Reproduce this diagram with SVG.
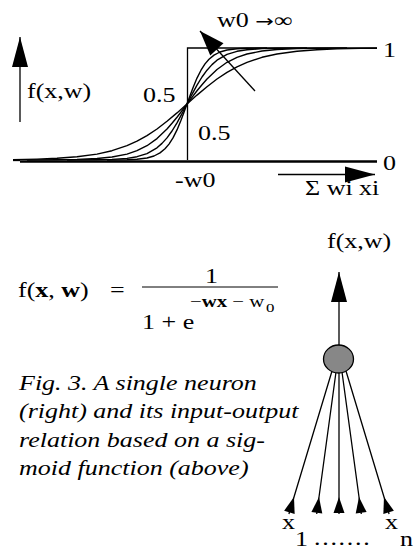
<svg xmlns="http://www.w3.org/2000/svg" width="417" height="551" viewBox="0 0 417 551">
<style>
.t{font-family:"Liberation Serif","Times New Roman",serif;font-size:20px;fill:#000}
.i{font-style:italic}
.b{font-weight:bold}
.ln{stroke:#000;stroke-width:1.3;fill:none}
.cv{stroke:#000;stroke-width:1.4;fill:none;stroke-linejoin:round}
</style>
<defs>
<marker id="big" markerUnits="userSpaceOnUse" viewBox="-31 -9 32 18" markerWidth="32" markerHeight="18" refX="0" refY="0" orient="auto" overflow="visible"><path d="M0,0 L-30,-8 L-30,8 Z" fill="#000"/></marker>
<marker id="mw" markerUnits="userSpaceOnUse" viewBox="-26 -10 27 20" markerWidth="27" markerHeight="20" refX="0" refY="0" orient="auto" overflow="visible"><path d="M0,0 L-25,-9 L-25,9 Z" fill="#000"/></marker>
<marker id="sm" markerUnits="userSpaceOnUse" viewBox="-17 -7 18 14" markerWidth="18" markerHeight="14" refX="0" refY="0" orient="auto" overflow="visible"><path d="M0,0 L-16,-5.5 L-16,5.5 Z" fill="#000"/></marker>
</defs>

<g id="plot">
<line class="ln" x1="13" y1="160.5" x2="20" y2="160.5"/>
<line x1="20" y1="161.5" x2="377" y2="161.5" stroke="#000" stroke-width="2.6"/>
<path class="ln" d="M187.5,160 V48 H377"/>
<path class="cv" d="M13,159.6 L37,159.1 L57,158.3 L77,156.8 L97,154.1 L112,150.7 L127,145.7 L137,141.2 L147,135.6 L157,129 L167,121.3 L177,112.9 L187,104 L197,95.1 L207,86.7 L217,79 L227,72.4 L237,66.8 L247,62.3 L262,57.3 L277,54 L297,51.2 L317,49.7 L337,48.9 L361,48.4 L377,48.3"/>
<path class="cv" d="M27,160 L57,159.8 L77,159.4 L97,158.5 L112,157 L127,154.1 L137,150.7 L147,145.7 L157,138.6 L167,129 L172,123.3 L177,117.2 L182,110.7 L187,104 L192,97.3 L197,90.8 L202,84.7 L207,79 L217,69.5 L227,62.3 L237,57.3 L247,54 L262,51 L277,49.5 L297,48.6 L317,48.2 L347,48"/>
<path class="cv" d="M67,160 L97,159.8 L112,159.4 L127,158.4 L137,156.7 L147,153.6 L157,147.8 L162,143.4 L167,137.9 L172,131 L177,122.8 L182,113.7 L187,104 L192,94.3 L197,85.2 L202,77 L207,70.2 L212,64.6 L217,60.2 L227,54.4 L237,51.3 L247,49.7 L262,48.6 L277,48.2 L307,48"/>
<path class="cv" d="M107,160 L127,159.7 L137,159.2 L147,158 L154,156 L160,152.9 L165,148.8 L169,144.1 L173,137.9 L177,129.9 L181,120.3 L184,112.3 L187,104 L190,95.7 L193,87.7 L197,78.1 L201,70.2 L205,63.9 L209,59.2 L214,55.1 L220,52 L227,50 L237,48.8 L247,48.3 L267,48"/>
<text class="t" transform="translate(27 98) scale(1.3 1)">f(x,w)</text>
<text class="t" transform="translate(143 102) scale(1.3 1)">0.5</text>
<text class="t" transform="translate(198 140) scale(1.3 1)">0.5</text>
<text class="t" transform="translate(383 57) scale(1.3 1)">1</text>
<text class="t" transform="translate(383 170) scale(1.3 1)">0</text>
<text class="t" transform="translate(175 187) scale(1.3 1)">-w0</text>
<text class="t" transform="translate(217 27) scale(1.3 1)">w0 <tspan style="font-family:'DejaVu Sans',sans-serif;font-size:17px">→</tspan>∞</text>
<text class="t" transform="translate(305 195) scale(1.3 1)">Σ wi xi</text>
</g>

<g id="formula">
<text class="t" transform="translate(18 297) scale(1.3 1)">f(<tspan class="b">x</tspan>, <tspan class="b">w</tspan>)</text>
<text class="t" transform="translate(110 297) scale(1.3 1)">=</text>
<text class="t" transform="translate(205 283) scale(1.3 1)">1</text>
<line x1="142" y1="287" x2="278" y2="287" stroke="#000" stroke-width="1"/>
<text class="t" transform="translate(142 329) scale(1.3 1)">1 + e</text>
<text class="t" style="font-size:16px" transform="translate(190 307) scale(1.3 1)">−<tspan class="b">wx</tspan> − w</text>
<text class="t" style="font-size:13px" transform="translate(266 312) scale(1.3 1)">0</text>
</g>

<g id="caption">
<text class="t i" transform="translate(19 390) scale(1.3 1)">Fig. 3. A single neuron</text>
<text class="t i" transform="translate(19 418) scale(1.3 1)">(right) and its input-output</text>
<text class="t i" transform="translate(19 447) scale(1.3 1)">relation based on a sig-</text>
<text class="t i" transform="translate(19 475) scale(1.3 1)">moid function (above)</text>
</g>

<g id="connectors">
<line class="ln" x1="20" y1="122" x2="20" y2="37" marker-end="url(#big)"/>
<line class="ln" x1="278" y1="174.5" x2="375" y2="174.5" marker-end="url(#big)"/>
<line class="ln" x1="255" y1="91" x2="200" y2="31" marker-end="url(#mw)"/>
<line class="ln" x1="339" y1="346" x2="339" y2="272" marker-end="url(#big)"/>
<path class="ln" d="M288.9,514 L294,497 L332,371" marker-mid="url(#sm)"/>
<path class="ln" d="M316.7,514 L319,497 L336,372" marker-mid="url(#sm)"/>
<path class="ln" d="M339,514 L339,497 L339,373" marker-mid="url(#sm)"/>
<path class="ln" d="M361.3,514 L359,497 L342,372" marker-mid="url(#sm)"/>
<path class="ln" d="M389.1,514 L384,497 L346,371" marker-mid="url(#sm)"/>
</g>

<g id="neuron">
<ellipse cx="338.5" cy="359" rx="15" ry="14" fill="#878787" stroke="#000" stroke-width="1.3"/>
<text class="t" transform="translate(327 248) scale(1.3 1)">f(x,w)</text>
</g>

<g id="inputs">
<text class="t" transform="translate(282 529) scale(1.3 1)">x</text>
<text class="t" transform="translate(295 546) scale(1.3 1)">1</text>
<text class="t" style="letter-spacing:1.3px" transform="translate(314 545) scale(1.3 1)">.......</text>
<text class="t" transform="translate(385 529) scale(1.3 1)">x</text>
<text class="t" transform="translate(400 546) scale(1.3 1)">n</text>
</g>
</svg>
